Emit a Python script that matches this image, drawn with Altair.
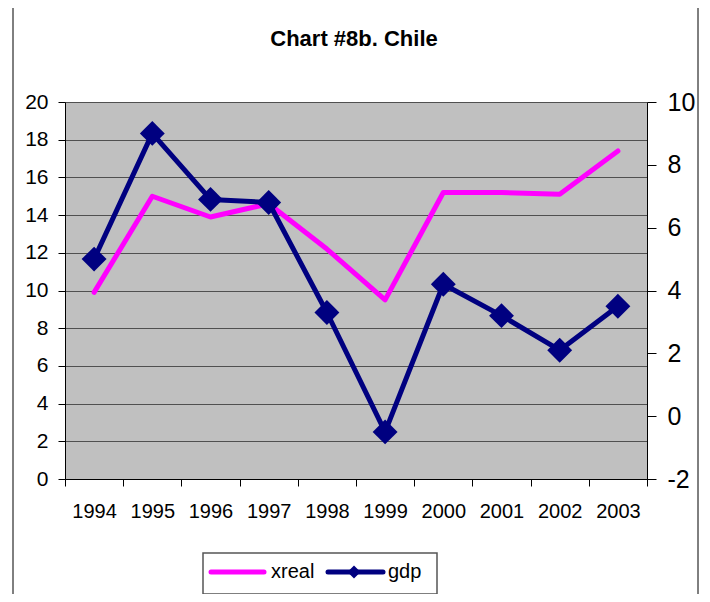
import altair as alt
import pandas as pd

years = ["1994", "1995", "1996", "1997", "1998", "1999", "2000", "2001", "2002", "2003"]
xreal = [9.9, 15.0, 13.9, 14.6, 12.2, 9.5, 15.2, 15.2, 15.1, 17.4]
gdp = [5.0, 9.0, 6.9, 6.8, 3.3, -0.5, 4.2, 3.2, 2.1, 3.5]
left_ticks = [0, 2, 4, 6, 8, 10, 12, 14, 16, 18, 20]
right_ticks = [-2, 0, 2, 4, 6, 8, 10]
title_text = "Chart #8b. Chile"

df = pd.DataFrame({"year": years, "xreal": xreal, "gdp": gdp})
one = pd.DataFrame({"k": [0]})

FONT = "Liberation Sans"
W, H = 582, 377

xenc = alt.X(
    "year:O",
    bandPosition=0.5,
    scale=alt.Scale(type="band", paddingInner=0, paddingOuter=0),
    axis=alt.Axis(
        title=None, labelAngle=0, labelFontSize=20, labelFont=FONT, labelColor="black",
        tickBand="extent", tickSize=7, tickColor="black", domainColor="black",
        labelPadding=15, grid=False,
    ),
)

xreal_line = alt.Chart(df).mark_line(
    color="#FF00FF", strokeWidth=5, strokeCap="round", strokeJoin="round"
).encode(
    x=xenc,
    y=alt.Y(
        "xreal:Q",
        scale=alt.Scale(domain=[0, 20], nice=False),
        axis=alt.Axis(
            title=None, values=left_ticks, labelFontSize=21, labelFont=FONT, labelColor="black",
            tickSize=7, tickColor="black", domainColor="black", labelPadding=10,
            grid=True, gridColor="#505050", gridWidth=1,
        ),
    ),
)

gdp_enc_y = alt.Y(
    "gdp:Q",
    scale=alt.Scale(domain=[-2, 10], nice=False),
    axis=alt.Axis(
        title=None, orient="right", values=right_ticks, labelFontSize=25, labelFont=FONT,
        labelColor="black", tickSize=9, tickColor="black", domainColor="black",
        labelPadding=11, grid=False, labelExpr="'' + datum.value",
    ),
)

gdp_line = alt.Chart(df).mark_line(
    color="#000080", strokeWidth=5, strokeJoin="round",
    point=alt.OverlayMarkDef(shape="diamond", size=620, filled=True, color="#000080"),
).encode(x=xenc, y=gdp_enc_y)

# outer frame of the chart
frame = alt.Chart(one).mark_rect(fill=None, stroke="black", strokeWidth=1).encode(
    x=alt.value(-52), x2=alt.value(633), y=alt.value(-200), y2=alt.value(700)
)

# chart title
title = alt.Chart(one).mark_text(
    text=title_text, align="center", baseline="alphabetic", fontSize=22,
    fontWeight="bold", font=FONT, color="black"
).encode(x=alt.value(289), y=alt.value(-56))

# legend box
leg_box = alt.Chart(one).mark_rect(fill="white", stroke="#555555", strokeWidth=1.5).encode(
    x=alt.value(138), x2=alt.value(372), y=alt.value(451), y2=alt.value(492)
)
leg_xreal = alt.Chart(one).mark_rule(color="#FF00FF", strokeWidth=5, strokeCap="round").encode(
    x=alt.value(146), x2=alt.value(199), y=alt.value(470)
)
leg_xreal_t = alt.Chart(one).mark_text(
    text="xreal", align="left", baseline="middle", fontSize=20, font=FONT, color="black"
).encode(x=alt.value(206), y=alt.value(470))
leg_gdp = alt.Chart(one).mark_rule(color="#000080", strokeWidth=5, strokeCap="round").encode(
    x=alt.value(263), x2=alt.value(318), y=alt.value(470)
)
leg_gdp_pt = alt.Chart(one).mark_point(
    shape="diamond", size=170, filled=True, color="#000080", opacity=1
).encode(x=alt.value(289), y=alt.value(470))
leg_gdp_t = alt.Chart(one).mark_text(
    text="gdp", align="left", baseline="middle", fontSize=20, font=FONT, color="black"
).encode(x=alt.value(323), y=alt.value(470))

chart = alt.layer(
    frame, title, xreal_line, gdp_line, leg_box, leg_xreal, leg_xreal_t, leg_gdp, leg_gdp_pt, leg_gdp_t
).resolve_scale(y="independent").properties(
    width=W,
    height=H,
    autosize=alt.AutoSizeParams(type="none"),
    padding={"left": 57, "top": 94, "right": 53, "bottom": 115},
    background="white",
).configure_view(fill="#C0C0C0", stroke=None)

chart.save("out.html", embed_options={"renderer": "svg", "actions": False})
